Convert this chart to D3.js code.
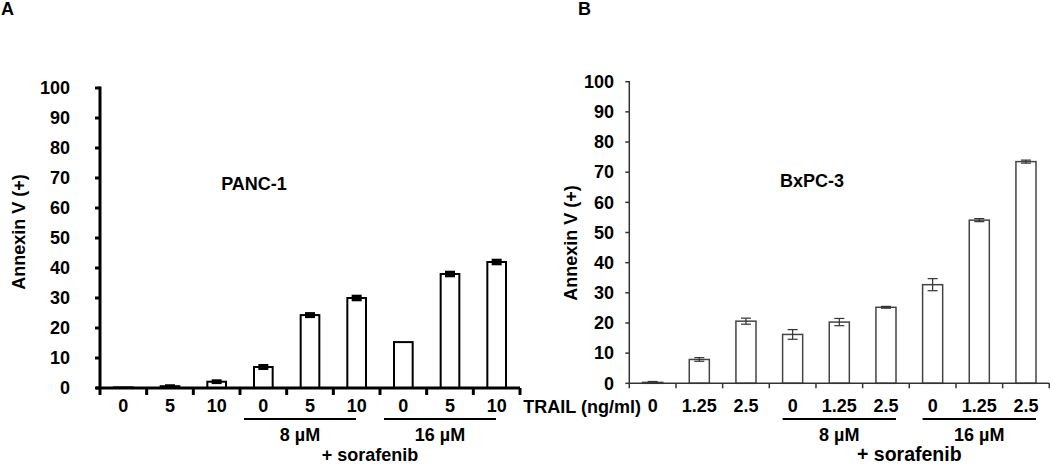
<!DOCTYPE html>
<html>
<head>
<meta charset="utf-8">
<script src="https://cdn.jsdelivr.net/npm/d3@7"></script>
<style>
  body { margin: 0; background: #fff; }
  svg text { font-family: 'Liberation Sans', Arial, sans-serif; font-weight: bold; fill: #000; }
</style>
</head>
<body>
<div class="canvas"></div>
<script>
'use strict';

// data
const panelADoses = ['0', '5', '10', '0', '5', '10', '0', '5', '10'];
const panelAValues = [0.2, 0.6, 2.1, 7.0, 24.3, 30.0, 15.3, 38.0, 42.0];
const panelAErrors = [0, 0.15, 0.3, 0.5, 0.5, 0.6, 0, 0.6, 0.6];

const panelBDoses = ['0', '1.25', '2.5', '0', '1.25', '2.5', '0', '1.25', '2.5'];
const panelBValues = [0.3, 7.9, 20.6, 16.2, 20.3, 25.2, 32.7, 54.1, 73.5];
const panelBErrors = [0.3, 0.6, 1.0, 1.6, 1.2, 0.3, 2.0, 0.5, 0.5];

const yTicks = [0, 10, 20, 30, 40, 50, 60, 70, 80, 90, 100];
const groupLabels = ['8 \u00b5M', '16 \u00b5M'];
const groupStart = [3, 6];

const svg = d3.select('.canvas')
    .append('svg')
    .attr('width', 1050)
    .attr('height', 465);

const panels = [
    {
        letter: 'A', letterX: 1, title: 'PANC-1', doses: panelADoses, values: panelAValues, errors: panelAErrors,
        x0: 100, x1: 520, y0: 388, y1: 88, pad: 0.6, axisW: 3, axisColor: '#000', barW: 2, barColor: '#000',
        errW: 2, capW: 3, tickLen: 7, yTickLen: 5, labelEnd: 70, yTitleX: 19, yTitleY: 232,
        titleX: 254, titleY: 190, lineShift: -10, xAxisStart: 96, soraSize: 18
    },
    {
        letter: 'B', letterX: 578, title: 'BxPC-3', doses: panelBDoses, values: panelBValues, errors: panelBErrors,
        x0: 629.3, x1: 1049.3, y0: 383.3, y1: 81.7, pad: 0.57, axisW: 1.5, axisColor: '#333', barW: 1.5, barColor: '#444',
        errW: 1.2, capW: 1.2, tickLen: 5, yTickLen: 4, labelEnd: 614, yTitleX: 571, yTitleY: 243,
        titleX: 812, titleY: 187, lineShift: 0, xAxisStart: 629.3, soraSize: 19.5
    }
];

panels.forEach(p => {
    const g = svg.append('g');

    const x = d3.scaleBand()
        .domain(d3.range(p.doses.length))
        .range([p.x0, p.x1])
        .paddingInner(p.pad)
        .paddingOuter(p.pad / 2);

    const y = d3.scaleLinear().domain([0, 100]).range([p.y0, p.y1]);
    const step = x.step();
    const bw = x.bandwidth();

    // panel letter
    g.append('text').attr('x', p.letterX).attr('y', 15).style('font-size', '18px').text(p.letter);

    // bars
    g.selectAll('rect.bar')
        .data(p.values)
        .enter().append('rect')
        .attr('class', 'bar')
        .attr('x', (d, i) => x(i))
        .attr('y', d => y(d))
        .attr('width', bw)
        .attr('height', d => p.y0 - y(d))
        .attr('fill', '#fff')
        .attr('stroke', p.barColor)
        .attr('stroke-width', p.barW);

    // error bars
    const eb = g.selectAll('g.err')
        .data(p.values.map((v, i) => ({ v: v, e: p.errors[i], i: i })).filter(d => d.e > 0))
        .enter().append('g')
        .attr('class', 'err')
        .attr('stroke', p.axisColor);

    eb.append('line')
        .attr('x1', d => x(d.i) + bw / 2).attr('x2', d => x(d.i) + bw / 2)
        .attr('y1', d => y(d.v - d.e)).attr('y2', d => y(d.v + d.e))
        .attr('stroke-width', p.errW);
    [-1, 1].forEach(s => {
        eb.append('line')
            .attr('x1', d => x(d.i) + bw / 2 - 5).attr('x2', d => x(d.i) + bw / 2 + 5)
            .attr('y1', d => y(d.v + s * d.e)).attr('y2', d => y(d.v + s * d.e))
            .attr('stroke-width', p.capW);
    });

    // y axis
    g.append('line')
        .attr('x1', p.x0).attr('x2', p.x0)
        .attr('y1', p.y0).attr('y2', p.y1 - p.axisW / 2)
        .attr('stroke', p.axisColor).attr('stroke-width', p.axisW);
    g.selectAll('line.ytick')
        .data(yTicks)
        .enter().append('line')
        .attr('class', 'ytick')
        .attr('x1', p.x0 - p.yTickLen).attr('x2', p.x0)
        .attr('y1', d => y(d)).attr('y2', d => y(d))
        .attr('stroke', p.axisColor).attr('stroke-width', p.axisW);
    g.selectAll('text.ylab')
        .data(yTicks)
        .enter().append('text')
        .attr('class', 'ylab')
        .attr('x', p.labelEnd)
        .attr('y', d => y(d))
        .attr('dy', '0.35em')
        .attr('text-anchor', 'end')
        .style('font-size', '18px')
        .text(d => d);

    // x axis
    g.append('line')
        .attr('x1', p.xAxisStart).attr('x2', p.x1)
        .attr('y1', p.y0).attr('y2', p.y0)
        .attr('stroke', p.axisColor).attr('stroke-width', p.axisW);
    g.selectAll('line.xtick')
        .data(d3.range(p.doses.length + 1))
        .enter().append('line')
        .attr('class', 'xtick')
        .attr('x1', d => p.x0 + d * step).attr('x2', d => p.x0 + d * step)
        .attr('y1', p.y0).attr('y2', p.y0 + p.tickLen)
        .attr('stroke', p.axisColor).attr('stroke-width', p.axisW);
    g.selectAll('text.xlab')
        .data(p.doses)
        .enter().append('text')
        .attr('class', 'xlab')
        .attr('x', (d, i) => x(i) + bw / 2)
        .attr('y', 412)
        .attr('text-anchor', 'middle')
        .style('font-size', '18px')
        .text(d => d);

    // sorafenib group underlines
    const spans = groupStart.map(s => [x(s) + p.lineShift, x(s + 2) + bw + p.lineShift]);
    spans.forEach((sp, k) => {
        g.append('line')
            .attr('x1', sp[0]).attr('x2', sp[1])
            .attr('y1', 419).attr('y2', 419)
            .attr('stroke', '#000').attr('stroke-width', 2);
        g.append('text')
            .attr('x', (sp[0] + sp[1]) / 2)
            .attr('y', 441)
            .attr('text-anchor', 'middle')
            .style('font-size', '18px')
            .text(groupLabels[k]);
    });
    g.append('text')
        .attr('x', (spans[0][0] + spans[1][1]) / 2)
        .attr('y', 461)
        .attr('text-anchor', 'middle')
        .style('font-size', p.soraSize + 'px')
        .text('+ sorafenib');

    // titles
    g.append('text')
        .attr('x', p.titleX).attr('y', p.titleY)
        .attr('text-anchor', 'middle')
        .style('font-size', '18px')
        .text(p.title);
    g.append('text')
        .attr('transform', `translate(${p.yTitleX},${p.yTitleY}) rotate(-90)`)
        .attr('text-anchor', 'middle')
        .attr('dy', '0.35em')
        .style('font-size', '18px')
        .text('Annexin V (+)');
});

svg.append('text')
    .attr('x', 641).attr('y', 413)
    .attr('text-anchor', 'end')
    .style('font-size', '18px')
    .text('TRAIL (ng/ml)');
</script>
</body>
</html>
